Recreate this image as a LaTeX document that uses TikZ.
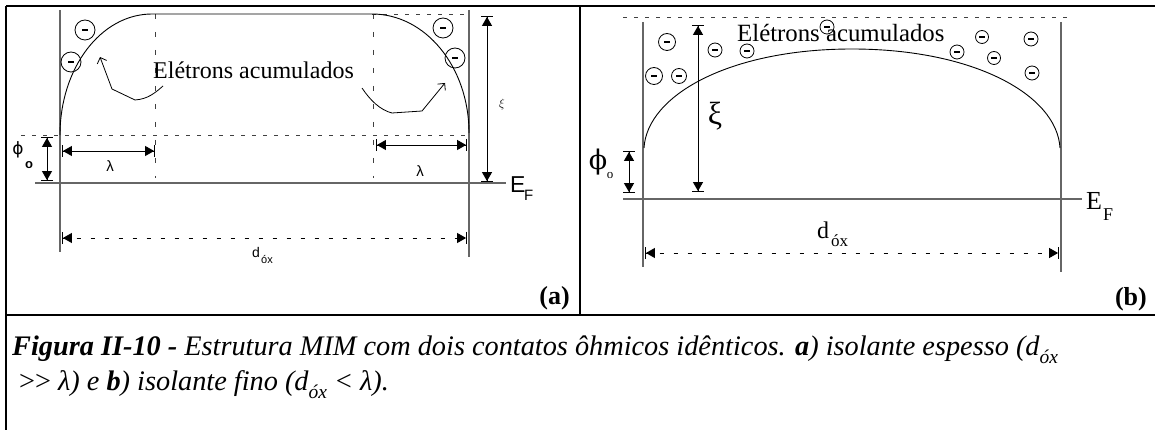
\documentclass[tikz,border=0pt]{standalone}
\usepackage{fontspec}
\setmainfont{Liberation Serif}
\newfontfamily\sansf{Liberation Sans}
\newfontfamily\dvsans{DejaVu Sans}
\newfontfamily\dvserif{DejaVu Serif}
\usetikzlibrary{arrows.meta}
\newcommand\fsz[1]{\fontsize{#1}{#1}\selectfont}
\tikzset{
  frame/.style={line width=2.6pt, black},
  axis/.style={line width=1.1pt, black!60},
  band/.style={line width=0.9pt, black},
  guide/.style={line width=0.9pt, black!75, dash pattern=on 4pt off 7pt},
  guidev/.style={line width=0.9pt, black!75, dash pattern=on 5pt off 13pt},
  dimarr/.style={line width=0.9pt, black, {Bar[width=12pt,sep=0pt]Triangle[width=10pt,length=9pt,sep=0pt]}-{Triangle[width=10pt,length=9pt,sep=0pt]Bar[width=12pt,sep=0pt]}},
  dimdash/.style={dimarr, dash pattern=on 4pt off 10pt},
  curarr/.style={line width=0.8pt, -{Straight Barb[length=5pt,width=10pt]}},
  elec/.style={circle, draw, line width=0.8pt, minimum size=#1, inner sep=0pt,
    path picture={\fill (path picture bounding box.center) ++(-3pt,-1.4pt) rectangle ++(6pt,2.8pt);}},
  elec/.default=20pt,
  txt/.style={inner sep=0pt},
}
\begin{document}
\begin{tikzpicture}[x=1pt,y=-1pt]
\useasboundingbox (0,0) rectangle (1155,430);
% ---------- frame ----------
\draw[frame] (6,6) -- (1155,6);
\draw[frame] (6,6) -- (6,430);
\draw[frame] (6,315) -- (1155,315);
\draw[frame] (580,6) -- (580,315);

% ---------- panel (a) ----------
\draw[axis] (60,10) -- (60,252);
\draw[axis] (469,10) -- (469,257);
\draw[axis] (35,183) -- (506,183);
\draw[guide] (21,135) -- (469,135);
\draw[guide] (372,14) -- (469,14);
\draw[guidev] (155,14) -- (155,178);
\draw[guidev] (373,14) -- (373,178);
\draw[band] (60,135) .. controls (60,68) and (101,14) .. (152,14) -- (372,14)
  .. controls (425.6,14) and (469,67) .. (469,133);

\coordinate (pAt) at (47,137); \coordinate (pAb) at (47,181);
\draw[dimarr] (pAt) -- (pAb);
\coordinate (lA1l) at (62,151); \coordinate (lA1r) at (155,151);
\draw[dimarr] (lA1l) -- (lA1r);
\coordinate (lA2l) at (376,145); \coordinate (lA2r) at (467,145);
\draw[dimarr] (lA2l) -- (lA2r);
\coordinate (xAt) at (487,16); \coordinate (xAb) at (487,182);
\draw[dimarr] (xAt) -- (xAb);
\coordinate (dAl) at (62,238); \coordinate (dAr) at (467,238);
\draw[dimdash] (dAl) -- (dAr);

\node[elec] (ea1) at (85,30) {};
\node[elec] (ea2) at (71,62) {};
\node[elec] (ea3) at (443,28) {};
\node[elec] (ea4) at (455,58) {};

\node[txt, anchor=base west] (elA) at (153,79) {\fsz{24}Elétrons acumulados};
\coordinate (cA1s) at (163,86); \coordinate (cA1t) at (100,57);
\draw[curarr] (cA1s) .. controls (155,93) and (148,99) .. (135,100) -- (112,89) -- (cA1t);
\coordinate (cA2s) at (362,88); \coordinate (cA2t) at (445,83);
\draw[curarr] (cA2s) .. controls (370,100) and (380,110) .. (392,113) -- (422,111) -- (cA2t);

\node[txt] (phA) at (18,150) {\fsz{17}\dvsans ϕ};
\node[txt] (phAo) at (29,165) {\fsz{13}\sansf\bfseries o};
\node[txt, anchor=base] (lamA1) at (110,172) {\fsz{15}\sansf λ};
\node[txt, anchor=base] (lamA2) at (420,177) {\fsz{15}\sansf λ};
\node[txt] (xiA) at (502,105) {\fsz{13}$\xi$};
\node[txt, anchor=base west] (EA) at (510,193) {\fsz{23}\sansf E};
\node[txt, anchor=base west] (FA) at (524,201) {\fsz{15}\sansf F};
\node[txt, anchor=base west] (dA) at (252,257) {\fsz{14}\sansf d};
\node[txt, anchor=base west] (oxA) at (261,263) {\fsz{11}\sansf óx};
\node[txt, anchor=base east] (labA) at (570,304) {\fsz{26}\bfseries (a)};

% ---------- panel (b) ----------
\draw[axis] (643,22) -- (643,267);
\draw[axis] (1061,22) -- (1061,272);
\draw[axis] (623,199) -- (1082,199);
\draw[guide] (623,17) -- (1067,17);
\draw[band] (644,148) .. controls (647,95) and (730,49) .. (852,49)
  .. controls (974,49) and (1057,95) .. (1060,148);

\coordinate (pBt) at (629,151); \coordinate (pBb) at (629,193);
\draw[dimarr] (pBt) -- (pBb);
\coordinate (xBt) at (698,25); \coordinate (xBb) at (698,192);
\draw[dimarr] (xBt) -- (xBb);
\coordinate (dBl) at (645,253); \coordinate (dBr) at (1059,253);
\draw[dimdash] (dBl) -- (dBr);

\node[elec=17pt] (eb1) at (667,42) {};
\node[elec=17pt] (eb2) at (654,76) {};
\node[elec=15pt] (eb3) at (679,76) {};
\node[elec=14pt] (eb4) at (715,50) {};
\node[elec=14pt] (eb5) at (747,51) {};
\node[elec=14pt] (eb6) at (827,27) {};
\node[elec=14pt] (eb7) at (957,52) {};
\node[elec=13pt] (eb8) at (982,37) {};
\node[elec=13pt] (eb9) at (994,58) {};
\node[elec=14pt] (eb10) at (1031,39) {};
\node[elec=14pt] (eb11) at (1032,73) {};

\node[txt, anchor=base west] (elB) at (737,42) {\fsz{24.8}Elétrons acumulados};
\node[txt] (xiB) at (715,116) {\fsz{32}ξ};
\node[txt] (phB) at (598,162) {\fsz{27}\dvserif ϕ};
\node[txt] (phBo) at (610,176) {\fsz{13}o};
\node[txt, anchor=base west] (EB) at (1086,210) {\fsz{26}E};
\node[txt, anchor=base west] (FB) at (1103,221) {\fsz{18}F};
\node[txt, anchor=base west] (dB) at (817,238) {\fsz{24}d};
\node[txt, anchor=base west] (oxB) at (831,247) {\fsz{17}óx};
\node[txt, anchor=base east] (labB) at (1147,305) {\fsz{26}\bfseries (b)};

% ---------- caption ----------
\node[txt, anchor=base west] (cap1) at (12,355) {\fsz{28.3}\itshape\bfseries Figura II-10 -\mdseries{} Estrutura MIM com dois contatos ôhmicos idênticos. \bfseries a\mdseries) isolante espesso (d\raisebox{-0.3em}{\fsz{19.5}óx}};
\node[txt, anchor=base west] (cap2) at (19,390) {\fsz{28.3}\itshape{\upshape >{}>} λ) e \textbf{b}) isolante fino (d\raisebox{-0.3em}{\fsz{19.5}óx} < λ).};
\end{tikzpicture}
\end{document}
